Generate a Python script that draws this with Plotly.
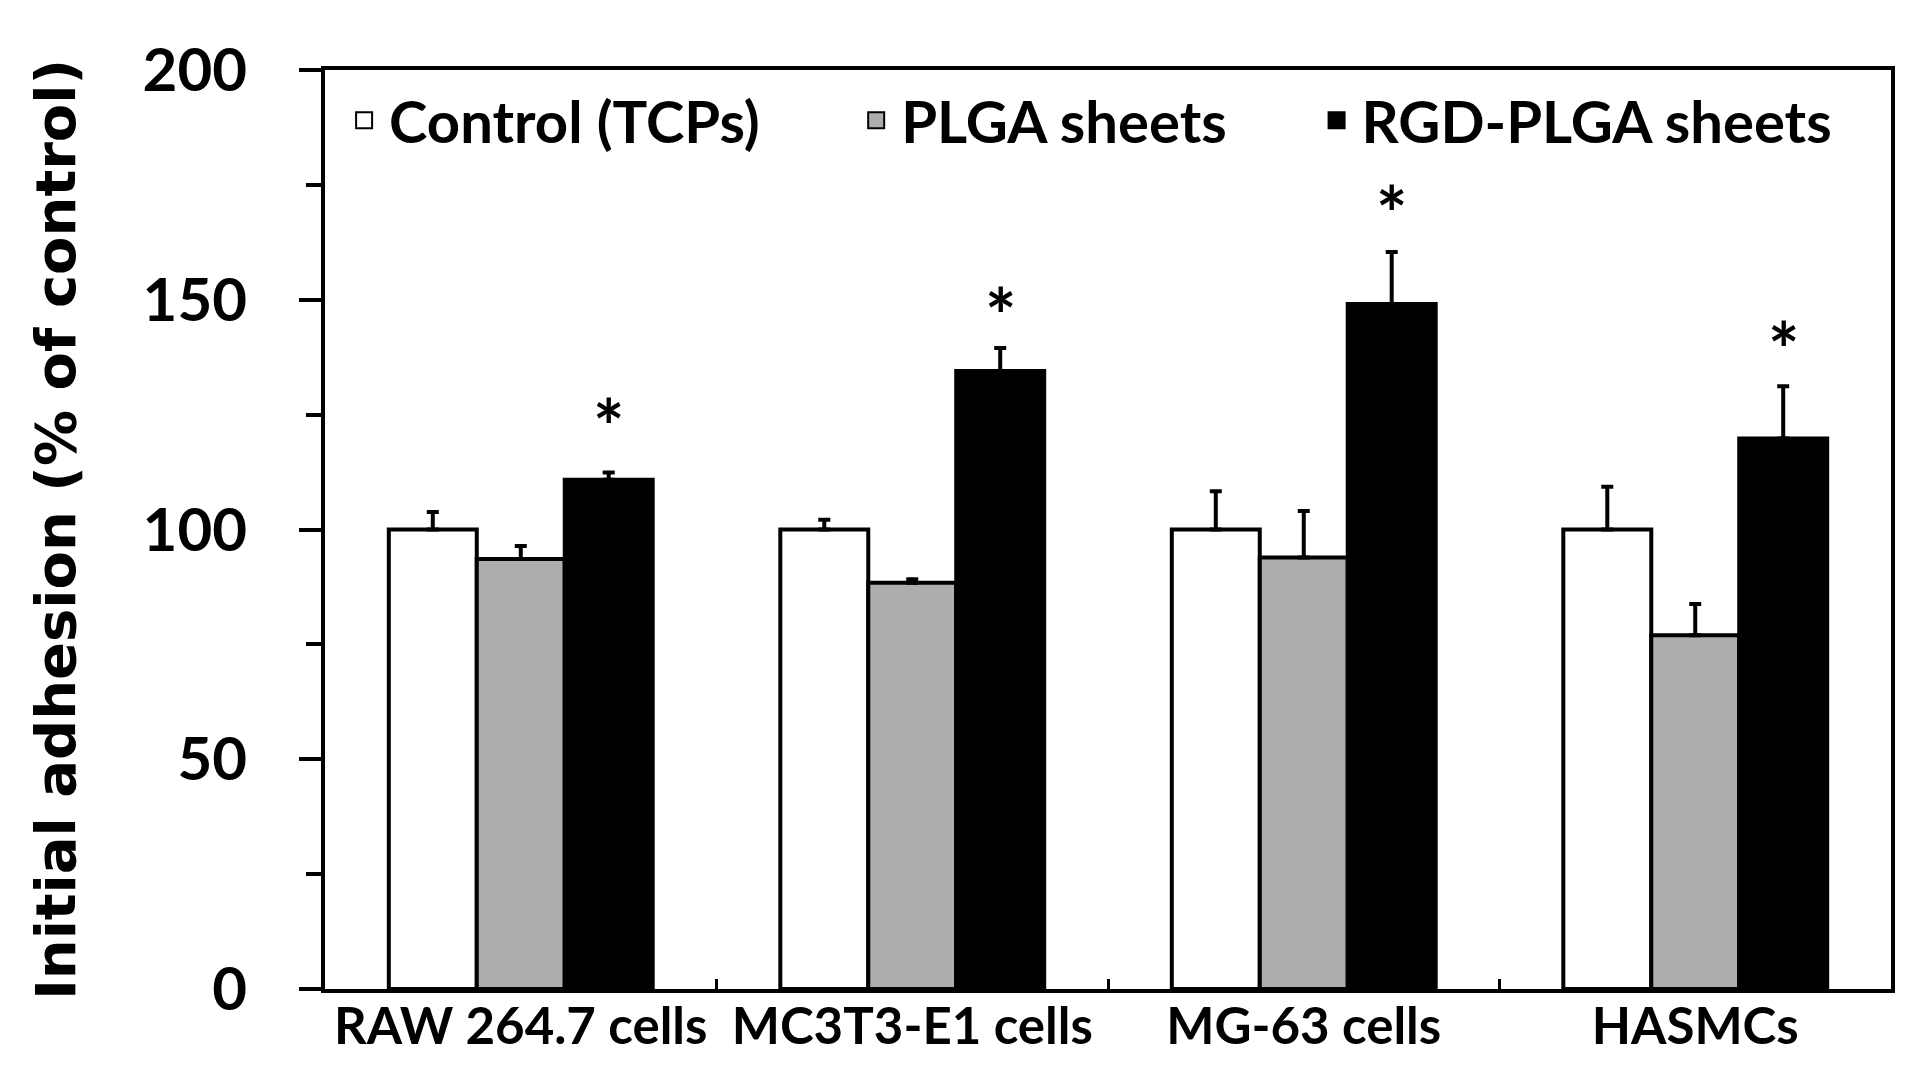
import plotly.graph_objects as go

# data
categories = ['RAW 264.7 cells', 'MC3T3-E1 cells', 'MG-63 cells', 'HASMCs']
control = [100, 100, 100, 100]
control_err = [3.8, 2.1, 8.3, 9.3]
plga = [93.6, 88.4, 93.9, 77.0]
plga_err = [2.8, 0.8, 10.1, 6.8]
rgd = [110.8, 134.5, 149.1, 119.8]
rgd_err = [1.6, 5.0, 11.3, 11.4]
star_y = [125.2, 149.5, 171.5, 142.0]

series = [('Control (TCPs)', control, control_err, 'white'),
          ('PLGA sheets', plga, plga_err, '#AFACAC'),
          ('RGD-PLGA sheets', rgd, rgd_err, 'black')]

BARGAP = 0.326
LABEL_FONT = dict(family='Lato', color='black', weight='bold')

fig = go.Figure()
for name, vals, err, color in series:
    fig.add_trace(go.Bar(
        x=categories, y=vals, name=name, showlegend=False,
        marker=dict(color=color, line=dict(color='black', width=4)),
        error_y=dict(type='data', array=err, arrayminus=[0] * len(err), symmetric=False,
                     color='black', thickness=4, width=6),
    ))

# legend proxies, one legend per entry so the spacing can follow the original
legend_ids = ['legend', 'legend2', 'legend3']
legend_x = [0.009, 0.336, 0.630]
for (name, _, _, color), lid in zip(series, legend_ids):
    fig.add_trace(go.Scatter(x=[None], y=[None], mode='markers', name=name, legend=lid,
                             marker=dict(symbol='square', size=16, color=color,
                                         line=dict(color='black', width=2))))

# significance stars above the RGD-PLGA bars
bar_w = (1 - BARGAP) / 3
annotations = [dict(x=i + bar_w, y=y, xref='x', yref='y', text='*', showarrow=False,
                    font=dict(size=74, **LABEL_FONT), yanchor='middle', yshift=-12)
               for i, y in enumerate(star_y)]

axis_line = dict(showline=True, linecolor='black', linewidth=4, mirror=True,
                 showgrid=False, zeroline=False)

legends = {lid: dict(orientation='h', x=lx, y=0.945, xanchor='left', yanchor='middle',
                     font=dict(size=58, **LABEL_FONT), bgcolor='rgba(0,0,0,0)', itemwidth=40)
           for lid, lx in zip(legend_ids, legend_x)}

fig.update_layout(
    width=1910, height=1070,
    margin=dict(l=317, r=27, t=62, b=89, autoexpand=False),
    plot_bgcolor='white', paper_bgcolor='white',
    barmode='group', bargap=BARGAP, bargroupgap=0,
    annotations=annotations,
    xaxis=dict(type='category', ticks='inside', tickson='boundaries', ticklen=10,
               tickwidth=3, tickcolor='black', ticklabelstandoff=-10,
               tickfont=dict(size=51, **LABEL_FONT), **axis_line),
    yaxis=dict(range=[0, 200], tickvals=[0, 50, 100, 150, 200], ticks='outside',
               ticklen=22, tickwidth=4, tickcolor='black', ticklabelstandoff=40,
               minor=dict(dtick=25, ticks='outside', ticklen=15, tickwidth=4, tickcolor='black'),
               tickfont=dict(size=60, **LABEL_FONT),
               title=dict(text='Initial adhesion (% of control)', standoff=50,
                          font=dict(family='DejaVu Sans', size=56, color='black', weight='bold')),
               **axis_line),
    **legends,
)

fig.write_html('out.html')
